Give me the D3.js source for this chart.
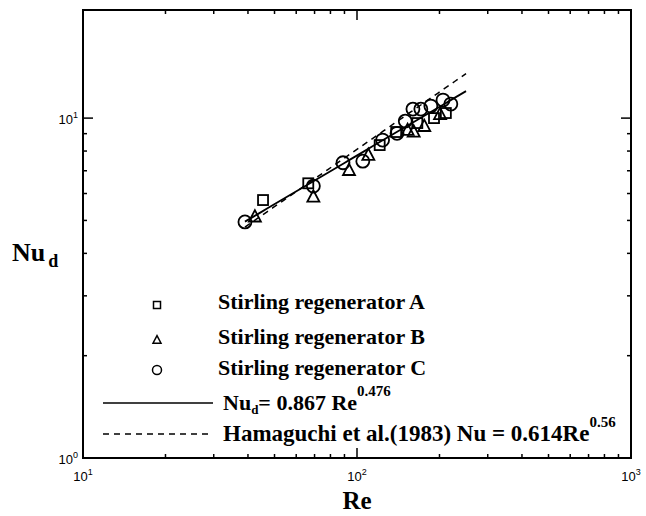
<!DOCTYPE html>
<html>
<head>
<meta charset="utf-8">
<script src="https://cdn.jsdelivr.net/npm/d3@7"></script>
<style>
  body { margin: 0; background: #fff; }
  svg { display: block; }
  .serif { font-family: "Liberation Serif", "Times New Roman", serif; font-weight: bold; }
  .sans { font-family: "Liberation Sans", Arial, sans-serif; }
</style>
</head>
<body>
<div id="chart"></div>
<script>
// data (Re, Nu)
var seriesA = [[45.4, 5.74], [66.4, 6.43], [121, 8.33], [139, 9.1], [166, 9.67], [191, 10.0], [211, 10.35]];
var seriesB = [[42.4, 5.13], [69.3, 5.87], [93.5, 7.03], [110, 7.79], [153, 9.22], [161, 9.12], [176, 9.47], [201, 10.27]];
var seriesC = [[39, 4.95], [69.3, 6.31], [88.9, 7.39], [105, 7.47], [124, 8.62], [140, 9.02], [150, 9.8], [160, 10.63], [171, 10.63], [186, 10.85], [206, 11.3], [220, 11.0]];
var fitRange = [39, 250];
var fitSolid = {a: 0.867, b: 0.476};
var fitDashed = {a: 0.614, b: 0.56};
var xMajor = [10, 100, 1000];
var yMajor = [1, 10];
var legendNames = ["Stirling regenerator A", "Stirling regenerator B", "Stirling regenerator C"];

var width = 646, height = 516;
var svg = d3.select("#chart").append("svg")
  .attr("width", width)
  .attr("height", height);

var x = d3.scaleLog().domain([10, 1000]).range([83, 631]);
var y = d3.scaleLog().domain([1, 20.8]).range([458, 10]);

// minor ticks
var xMinor = [], yMinor = [];
[10, 100].forEach(function(d) { for (var k = 2; k <= 9; k++) xMinor.push(d * k); });
for (var k = 2; k <= 9; k++) yMinor.push(k);

var ax = svg.append("g").attr("stroke", "#000").attr("stroke-width", 1.5);
// bottom & top ticks
xMajor.concat(xMinor).forEach(function(d) {
  var len = xMajor.indexOf(d) >= 0 ? 10 : 4;
  ax.append("line").attr("x1", x(d)).attr("x2", x(d)).attr("y1", y.range()[0]).attr("y2", y.range()[0] - len);
  ax.append("line").attr("x1", x(d)).attr("x2", x(d)).attr("y1", y.range()[1]).attr("y2", y.range()[1] + len);
});
// left & right ticks
yMajor.concat(yMinor).forEach(function(d) {
  var len = yMajor.indexOf(d) >= 0 ? 10 : 4;
  ax.append("line").attr("y1", y(d)).attr("y2", y(d)).attr("x1", x.range()[0]).attr("x2", x.range()[0] + len);
  ax.append("line").attr("y1", y(d)).attr("y2", y(d)).attr("x1", x.range()[1]).attr("x2", x.range()[1] - len);
});

// frame
svg.append("rect")
  .attr("x", x.range()[0]).attr("y", y.range()[1])
  .attr("width", x.range()[1] - x.range()[0])
  .attr("height", y.range()[0] - y.range()[1])
  .attr("fill", "none").attr("stroke", "#000").attr("stroke-width", 2);

// tick labels
xMajor.forEach(function(d) {
  var t = svg.append("text").attr("class", "sans").attr("x", x(d)).attr("y", 481)
    .attr("text-anchor", "middle").attr("font-size", 13);
  t.append("tspan").text("10");
  t.append("tspan").attr("dy", -6).attr("font-size", 9).text(Math.round(Math.log10(d)));
});
yMajor.forEach(function(d) {
  var t = svg.append("text").attr("class", "sans").attr("x", 78).attr("y", y(d) + 6)
    .attr("text-anchor", "end").attr("font-size", 13);
  t.append("tspan").text("10");
  t.append("tspan").attr("dy", -6).attr("font-size", 9).text(Math.round(Math.log10(d)));
});

// axis titles
svg.append("text").attr("class", "serif").attr("x", 357).attr("y", 509)
  .attr("text-anchor", "middle").attr("font-size", 25).text("Re");
var yt = svg.append("text").attr("class", "serif").attr("x", 12).attr("y", 261).attr("font-size", 26);
yt.append("tspan").text("Nu");
yt.append("tspan").attr("dx", 3).attr("dy", 6).attr("font-size", 18).text("d");

// fit lines
var fitPts = d3.range(0, 41).map(function(i) {
  return fitRange[0] * Math.pow(fitRange[1] / fitRange[0], i / 40);
});
var line = d3.line();
svg.append("path")
  .attr("d", line(fitPts.map(function(r) { return [x(r), y(fitDashed.a * Math.pow(r, fitDashed.b))]; })))
  .attr("fill", "none").attr("stroke", "#000").attr("stroke-width", 1.5).attr("stroke-dasharray", "6,5");
svg.append("path")
  .attr("d", line(fitPts.map(function(r) { return [x(r), y(fitSolid.a * Math.pow(r, fitSolid.b))]; })))
  .attr("fill", "none").attr("stroke", "#000").attr("stroke-width", 1.8);

// markers
function drawSymbol(g, type, cx, cy, s) {
  if (type === 0) {
    g.append("rect").attr("x", cx - s / 2).attr("y", cy - s / 2).attr("width", s).attr("height", s);
  } else if (type === 1) {
    var h = s * 0.9;
    g.append("path").attr("d", "M" + cx + "," + (cy - h * 0.6) + "L" + (cx + s / 2) + "," + (cy + h * 0.45) + "L" + (cx - s / 2) + "," + (cy + h * 0.45) + "Z");
  } else {
    g.append("circle").attr("cx", cx).attr("cy", cy).attr("r", s / 2);
  }
}
var marks = svg.append("g").attr("fill", "none").attr("stroke", "#000").attr("stroke-width", 1.8);
[seriesA, seriesB, seriesC].forEach(function(s, i) {
  var size = [10, 12, 13][i];
  s.forEach(function(d) { drawSymbol(marks, i, x(d[0]), y(d[1]), size); });
});

// legend
var leg = svg.append("g");
var legY = [305, 340, 370];
var legBase = [309, 344, 375];
legendNames.forEach(function(name, i) {
  drawSymbol(leg.append("g").attr("fill", "none").attr("stroke", "#000").attr("stroke-width", 1.5), i, 157, legY[i], [7, 8, 9][i]);
  leg.append("text").attr("class", "serif").attr("x", 218).attr("y", legBase[i])
    .attr("font-size", 22).text(name);
});
leg.append("line").attr("x1", 103).attr("x2", 213).attr("y1", 403).attr("y2", 403)
  .attr("stroke", "#000").attr("stroke-width", 1.5);
leg.append("line").attr("x1", 103).attr("x2", 213).attr("y1", 434).attr("y2", 434)
  .attr("stroke", "#000").attr("stroke-width", 1.5).attr("stroke-dasharray", "6,5");

var t1 = leg.append("text").attr("class", "serif").attr("x", 223).attr("y", 410).attr("font-size", 22);
t1.append("tspan").text("Nu");
t1.append("tspan").attr("dy", 4).attr("font-size", 13).text("d");
t1.append("tspan").attr("dy", -4).text("= 0.867 Re");
t1.append("tspan").attr("dy", -14).attr("font-size", 15).text("0.476");

var t2 = leg.append("text").attr("class", "serif").attr("x", 223).attr("y", 441).attr("font-size", 23);
t2.append("tspan").text("Hamaguchi et al.(1983) Nu = 0.614Re");
t2.append("tspan").attr("dy", -14).attr("font-size", 15).text("0.56");
</script>
</body>
</html>
